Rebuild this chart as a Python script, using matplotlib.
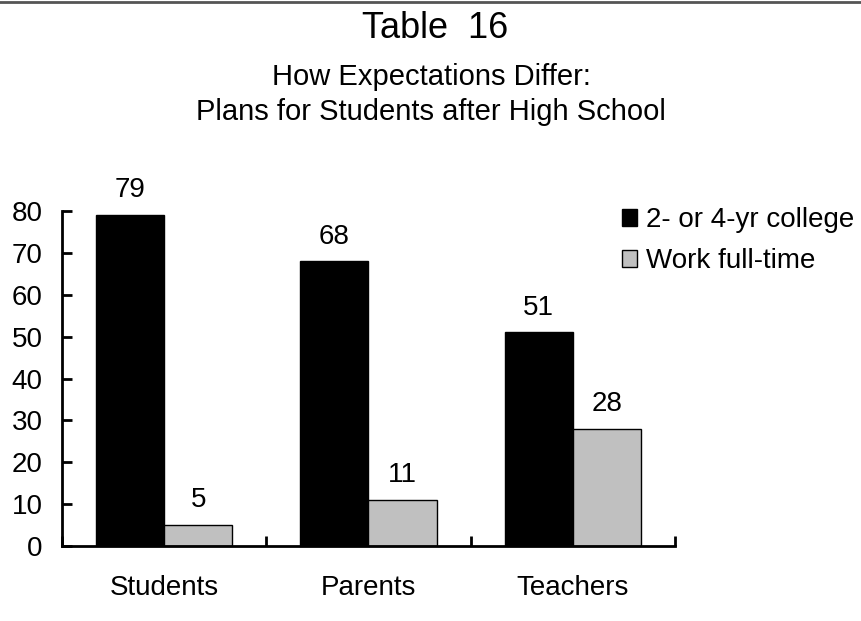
import matplotlib.pyplot as plt
import numpy as np
from matplotlib.patches import Patch

# Data
groups = ["Students", "Parents", "Teachers"]
college = [79, 68, 51]
work = [5, 11, 28]
series_names = ["2- or 4-yr college", "Work full-time"]

plt.rcParams['font.family'] = ['Liberation Sans', 'DejaVu Sans']

fig = plt.figure(figsize=(8.62, 6.21), dpi=100)
ax = fig.add_axes([62 / 862, 1 - 546 / 621, (675 - 62) / 862, (546 - 211) / 621])

x = np.arange(len(groups))
w = 1 / 3
b1 = ax.bar(x - w / 2, college, w, color="black", edgecolor="black", linewidth=1)
b2 = ax.bar(x + w / 2, work, w, color="#c0c0c0", edgecolor="black", linewidth=1)

for bars, vals in [(b1, college), (b2, work)]:
    for rect, v in zip(bars, vals):
        ax.text(rect.get_x() + rect.get_width() / 2, v + 2.8, str(v),
                ha="center", va="bottom", fontsize=20)

ax.set_xlim(-0.5, 2.5)
ax.set_ylim(0, 80)
ax.set_yticks(range(0, 81, 10))
ax.tick_params(axis="y", direction="in", length=7, width=2, labelsize=20, pad=14)
ax.set_xticks([-0.5, 0.5, 1.5, 2.5])
ax.set_xticklabels([])
ax.tick_params(axis="x", direction="in", length=7, width=2)
ax.set_xticks(x, minor=True)
ax.set_xticklabels(groups, minor=True)
ax.tick_params(axis="x", which="minor", length=0, labelsize=20, pad=21)

for s in ["top", "right"]:
    ax.spines[s].set_visible(False)
ax.spines["left"].set_linewidth(2)
ax.spines["bottom"].set_linewidth(2)

handles = [Patch(facecolor="black", edgecolor="black"),
           Patch(facecolor="#c0c0c0", edgecolor="black")]
fig.legend(handles, series_names, loc="upper left", bbox_to_anchor=(611 / 862, 1 - 196 / 621),
           frameon=False, fontsize=20, handlelength=0.55, handleheight=0.55,
           handletextpad=0.3, labelspacing=0.55, borderaxespad=0)

fig.text(435 / 862, 1 - 29 / 621, "Table  16", ha="center", va="center", fontsize=26)
fig.text(0.5, 1 - 77 / 621, "How Expectations Differ:", ha="center", va="center", fontsize=21)
fig.text(0.5, 1 - 112 / 621, "Plans for Students after High School", ha="center", va="center", fontsize=21)

fig.add_artist(plt.Line2D([0, 1], [1 - 2 / 621, 1 - 2 / 621], color="#555555", linewidth=2))

plt.savefig("out.png", dpi=100)
